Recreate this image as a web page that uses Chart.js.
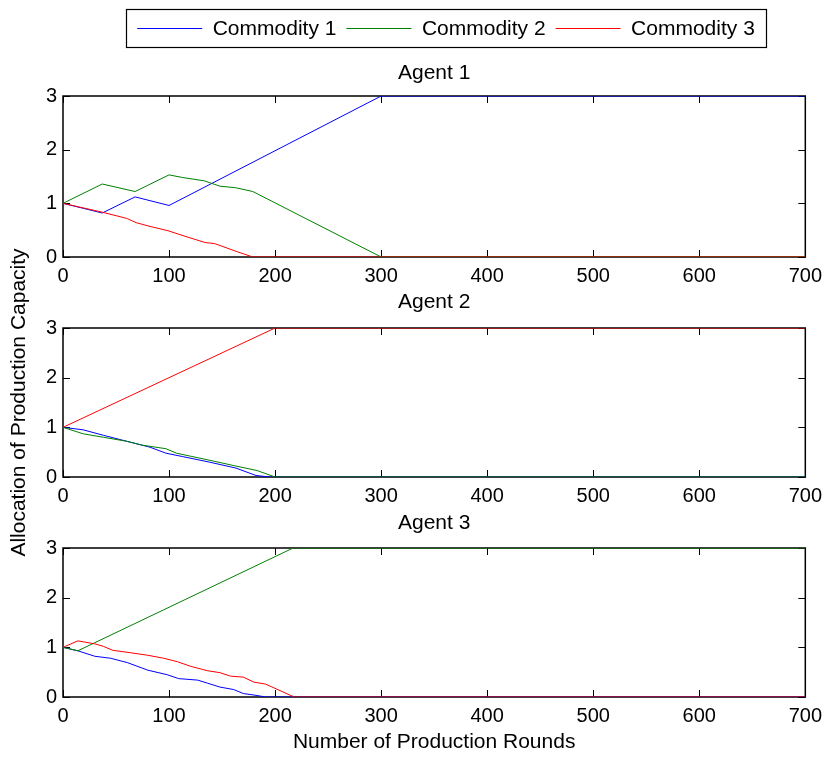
<!DOCTYPE html>
<html>
<head>
<meta charset="utf-8">
<script src="https://cdn.jsdelivr.net/npm/chart.js@4"></script>
<style>
  body { margin: 0; background: #fff; }
  #wrap { position: relative; width: 829px; height: 757px; }
  #wrap canvas { position: absolute; left: 0; top: 0; }
</style>
</head>
<body>
<div id="wrap">
  <canvas id="agent1" width="829" height="757"></canvas>
  <canvas id="agent2" width="829" height="757"></canvas>
  <canvas id="agent3" width="829" height="757"></canvas>
</div>
<script>
// series names and tick values
const commodities = ['Commodity 1', 'Commodity 2', 'Commodity 3'];
const colors = ['#0000ff', '#008000', '#ff0000'];
const xTicks = [0, 100, 200, 300, 400, 500, 600, 700];
const yTicks = [0, 1, 2, 3];

// Agent 1
const a1c1Rounds = [0, 37, 68, 100, 300, 700];
const a1c1Values = [1, 0.82, 1.12, 0.96, 3, 3];
const a1c2Rounds = [0, 37, 68, 100, 113, 133, 148, 163, 179, 300, 700];
const a1c2Values = [1, 1.36, 1.22, 1.53, 1.48, 1.42, 1.32, 1.29, 1.22, 0, 0];
const a1c3Rounds = [0, 38, 60, 69, 82, 99, 116, 134, 143, 164, 179, 700];
const a1c3Values = [1, 0.83, 0.72, 0.64, 0.57, 0.49, 0.38, 0.27, 0.25, 0.10, 0, 0];

// Agent 2
const a2c1Rounds = [0, 19, 38, 60, 82, 97, 113, 138, 163, 182, 195, 700];
const a2c1Values = [1, 0.95, 0.84, 0.72, 0.60, 0.48, 0.41, 0.30, 0.18, 0.03, 0, 0];
const a2c2Rounds = [0, 19, 38, 60, 75, 97, 107, 120, 142, 161, 183, 200, 700];
const a2c2Values = [1, 0.87, 0.80, 0.72, 0.64, 0.57, 0.48, 0.42, 0.32, 0.23, 0.13, 0, 0];
const a2c3Rounds = [0, 200, 700];
const a2c3Values = [1, 3, 3];

// Agent 3
const a3c1Rounds = [0, 14, 30, 45, 61, 80, 98, 109, 127, 136, 148, 161, 170, 183, 191, 700];
const a3c1Values = [1, 0.93, 0.82, 0.78, 0.69, 0.54, 0.45, 0.37, 0.34, 0.28, 0.20, 0.15, 0.07, 0.03, 0, 0];
const a3c2Rounds = [0, 14, 217, 700];
const a3c2Values = [1, 0.93, 3, 3];
const a3c3Rounds = [0, 14, 30, 38, 47, 64, 80, 95, 108, 120, 136, 148, 158, 170, 180, 191, 218, 700];
const a3c3Values = [1, 1.13, 1.07, 1.02, 0.94, 0.89, 0.84, 0.78, 0.71, 0.62, 0.53, 0.49, 0.42, 0.40, 0.30, 0.26, 0, 0];

Chart.defaults.font.family = "'Liberation Sans', Arial, sans-serif";
Chart.defaults.font.size = 20;
Chart.defaults.color = '#000';

const SAMPLE_W = 65;

function toPoints(rounds, values) {
  return rounds.map((r, i) => ({x: r, y: values[i]}));
}

function makeDatasets(series) {
  return series.map((s, i) => ({
    label: commodities[i],
    data: toPoints(s[0], s[1]),
    borderColor: colors[i],
    backgroundColor: colors[i],
    borderWidth: 1,
    pointRadius: 0,
    tension: 0,
    fill: false,
    order: 2 - i   // commodity 3 drawn on top
  }));
}

// matlab style box with ticks pointing inwards
const boxTicks = {
  id: 'boxTicks',
  beforeDatasetsDraw(chart) {
    const {ctx, chartArea: a, scales: {x, y}} = chart;
    ctx.save();
    ctx.strokeStyle = '#000';
    ctx.lineWidth = 1;
    ctx.beginPath();
    x.ticks.forEach(t => {
      const px = Math.round(x.getPixelForValue(t.value)) + 0.5;
      ctx.moveTo(px, a.bottom); ctx.lineTo(px, a.bottom - 7);
      ctx.moveTo(px, a.top); ctx.lineTo(px, a.top + 7);
    });
    y.ticks.forEach(t => {
      const py = Math.round(y.getPixelForValue(t.value)) + 0.5;
      ctx.moveTo(a.left, py); ctx.lineTo(a.left + 7, py);
      ctx.moveTo(a.right, py); ctx.lineTo(a.right - 7, py);
    });
    ctx.stroke();
    ctx.lineWidth = 1.5;
    ctx.strokeRect(a.left, a.top, a.right - a.left, a.bottom - a.top);
    ctx.restore();
  }
};

// legend sits in a framed box, off-centre like the original figure;
// the line samples are stroked here at the legend's own hit boxes
const legendFrame = {
  id: 'legendFrame',
  afterLayout(chart) {
    const lg = chart.legend;
    lg.left = 126;
    lg.right = 766;
    lg.width = 640;
  },
  afterDraw(chart) {
    const lg = chart.legend;
    const ctx = chart.ctx;
    ctx.save();
    ctx.strokeStyle = '#000';
    ctx.lineWidth = 1.2;
    ctx.strokeRect(lg.left + 0.5, lg.top + 0.5, lg.width, lg.height - 3);
    ctx.lineWidth = 1;
    lg.legendHitBoxes.forEach((hb, i) => {
      const item = lg.legendItems[i];
      const yy = Math.round(hb.top + hb.height / 2) - 1.5;
      ctx.beginPath();
      ctx.strokeStyle = colors[item.datasetIndex];
      ctx.moveTo(hb.left, yy);
      ctx.lineTo(hb.left + SAMPLE_W, yy);
      ctx.stroke();
    });
    ctx.restore();
  }
};

function legendLabels(chart) {
  return chart.data.datasets.map((ds, i) => ({
    text: ds.label,
    datasetIndex: i,
    strokeStyle: 'rgba(0,0,0,0)',
    fillStyle: 'rgba(0,0,0,0)',
    fontColor: '#000',
    lineWidth: 0,
    hidden: false
  }));
}

function makeChart(id, title, series, opt) {
  const xTitle = opt.xTitle || '';
  const yTitle = opt.yTitle || '';
  return new Chart(document.getElementById(id), {
    type: 'line',
    data: {datasets: makeDatasets(series)},
    plugins: opt.legend ? [boxTicks, legendFrame] : [boxTicks],
    options: {
      responsive: false,
      animation: false,
      devicePixelRatio: 1,
      layout: {padding: opt.padding},
      plugins: {
        tooltip: {enabled: false},
        legend: {
          display: !!opt.legend,
          weight: 3000,
          labels: {
            font: {size: 21},
            color: '#000',
            boxWidth: SAMPLE_W,
            boxHeight: 0,
            padding: 10,
            generateLabels: legendLabels
          }
        },
        title: {
          display: true,
          text: title,
          fullSize: false,
          weight: 500,
          color: '#000',
          font: {size: 21, weight: 'normal', lineHeight: 1.2},
          padding: opt.titlePadding
        }
      },
      scales: {
        x: {
          type: 'linear',
          min: 0, max: 700,
          afterBuildTicks: s => { s.ticks = xTicks.map(v => ({value: v})); },
          grid: {display: false, drawTicks: false},
          border: {display: false},
          ticks: {padding: 7, maxRotation: 0, font: {size: 20}, color: '#000'},
          title: {display: !!xTitle, text: xTitle, font: {size: 21}, color: '#000', padding: {top: 0, bottom: 2.4}},
          afterFit: s => { s.height = opt.xHeight; }
        },
        y: {
          min: 0, max: 3,
          afterBuildTicks: s => { s.ticks = yTicks.map(v => ({value: v})); },
          grid: {display: false, drawTicks: false},
          border: {display: false},
          ticks: {padding: 6, font: {size: 20}, color: '#000'},
          title: {display: !!yTitle, text: yTitle, font: {size: 21}, color: '#000', padding: 0},
          afterFit: s => { s.width = 56; }
        }
      }
    }
  });
}

makeChart('agent1', 'Agent 1',
  [[a1c1Rounds, a1c1Values], [a1c2Rounds, a1c2Values], [a1c3Rounds, a1c3Values]],
  {legend: true, padding: {top: 9, left: 7, right: 23, bottom: 470}, titlePadding: {top: 11, bottom: 9.8}, xHeight: 30});

makeChart('agent2', 'Agent 2',
  [[a2c1Rounds, a2c1Values], [a2c2Rounds, a2c2Values], [a2c3Rounds, a2c3Values]],
  {yTitle: 'Allocation of Production Capacity', padding: {top: 290, left: 7, right: 23, bottom: 250}, titlePadding: {top: 0, bottom: 12.8}, xHeight: 30});

makeChart('agent3', 'Agent 3',
  [[a3c1Rounds, a3c1Values], [a3c2Rounds, a3c2Values], [a3c3Rounds, a3c3Values]],
  {xTitle: 'Number of Production Rounds', padding: {top: 511, left: 7, right: 23, bottom: 0}, titlePadding: {top: 0, bottom: 11.8}, xHeight: 60});
</script>
</body>
</html>
